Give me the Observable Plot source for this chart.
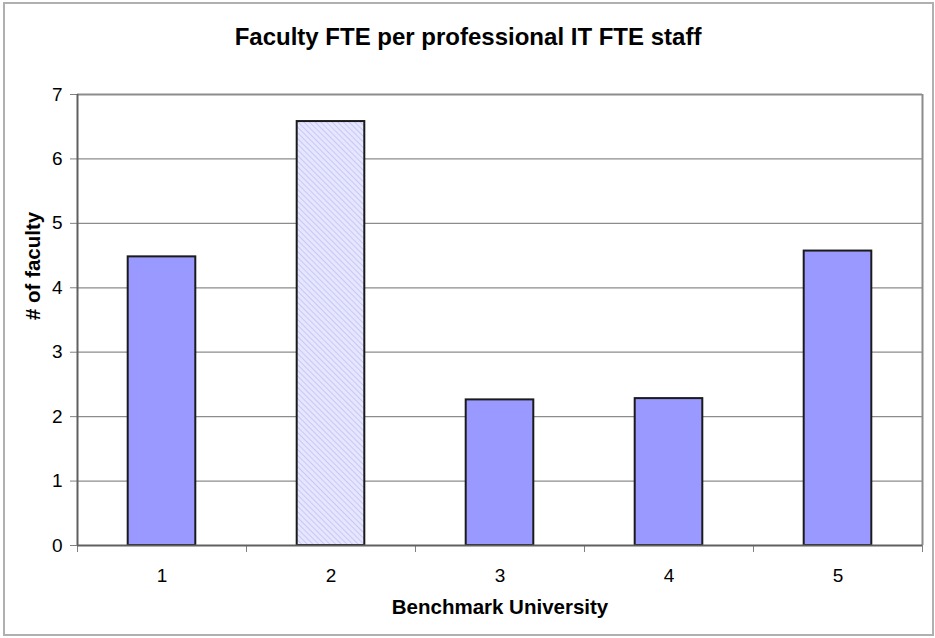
<!DOCTYPE html>
<html>
<head>
<meta charset="utf-8">
<script src="https://cdn.jsdelivr.net/npm/d3@7"></script>
<script src="https://cdn.jsdelivr.net/npm/@observablehq/plot@0.6"></script>
<style>
  html, body { margin: 0; padding: 0; background: #fff; }
  #wrap { position: relative; width: 935px; height: 638px; font-family: "Liberation Sans", Arial, sans-serif; }
  #border { position: absolute; left: 3px; top: 2px; width: 927px; height: 630px; border: 2px solid #b0b0b0; pointer-events: none; }
</style>
</head>
<body>
<div id="wrap"><div id="border"></div></div>
<script>
const title = "Faculty FTE per professional IT FTE staff";
const xLabel = "Benchmark University";
const yLabel = "# of faculty";
const universities = [1, 2, 3, 4, 5];
const faculty = [4.48, 6.58, 2.26, 2.28, 4.57];
const highlighted = 2;
const yTicks = [0, 1, 2, 3, 4, 5, 6, 7];
const xBoundaries = [0.5, 1.5, 2.5, 3.5, 4.5, 5.5];

const data = universities.map((u, i) => ({u, v: faculty[i]}));
const half = 0.2;

const chart = Plot.plot({
  width: 935,
  height: 638,
  marginTop: 94,
  marginLeft: 77,
  marginRight: 13,
  marginBottom: 93,
  style: {fontFamily: "'Liberation Sans', Arial, sans-serif", background: "transparent", color: "black"},
  x: {type: "linear", domain: [0.5, 5.5]},
  y: {domain: [0, 7]},
  marks: [
    Plot.ruleY(yTicks.filter(t => t > 0), {stroke: "#8c8c8c", strokeWidth: 1.2}),
    Plot.ruleY([7], {stroke: "#8c8c8c", strokeWidth: 2}),
    Plot.ruleX([5.5], {stroke: "#8c8c8c", strokeWidth: 2}),
    Plot.rectY(data.filter(d => d.u !== highlighted), {x1: d => d.u - half, x2: d => d.u + half, y1: 0, y2: "v", fill: "#9999ff", stroke: "#1a1a1a", strokeWidth: 2}),
    Plot.rectY(data.filter(d => d.u === highlighted), {x1: d => d.u - half, x2: d => d.u + half, y1: 0, y2: "v", fill: "url(#hatch)", stroke: "#1a1a1a", strokeWidth: 2}),
    Plot.axisY({ticks: yTicks, tickFormat: "d", tickSize: 7, tickPadding: 8, fontSize: 19, stroke: "#808080", fill: "black", label: null}),
    Plot.axisX({ticks: xBoundaries, tickSize: 7, tickFormat: () => "", stroke: "#808080", label: null}),
    Plot.axisX({ticks: universities, tickFormat: "d", tickSize: 0, tickPadding: 23, fontSize: 19, fill: "black", label: null}),
    Plot.ruleX([0.5], {stroke: "#606060", strokeWidth: 2}),
    Plot.ruleY([0], {stroke: "#606060", strokeWidth: 2}),
    Plot.text([title], {frameAnchor: "top", lineAnchor: "middle", dy: -57, dx: -32, fontSize: 24, fontWeight: "bold", fill: "black"}),
    Plot.text([xLabel], {frameAnchor: "bottom", lineAnchor: "middle", dy: 62, fontSize: 20.5, fontWeight: "bold", fill: "black"}),
    Plot.text([yLabel], {frameAnchor: "left", lineAnchor: "middle", dx: -44, rotate: -90, fontSize: 20.5, fontWeight: "bold", fill: "black"})
  ]
});

const svg = d3.select(chart);
const defs = svg.insert("defs", ":first-child");
const pat = defs.append("pattern").attr("id", "hatch").attr("patternUnits", "userSpaceOnUse")
  .attr("width", 4).attr("height", 4).attr("patternTransform", "rotate(-45)");
pat.append("rect").attr("width", 4).attr("height", 4).attr("fill", "#e6e6ff");
pat.append("line").attr("x1", 0).attr("y1", 0).attr("x2", 0).attr("y2", 4).attr("stroke", "#b8b8f0").attr("stroke-width", 1.3);

chart.style.position = "absolute";
chart.style.left = "0px";
chart.style.top = "0px";
document.getElementById("wrap").appendChild(chart);
</script>
</body>
</html>
